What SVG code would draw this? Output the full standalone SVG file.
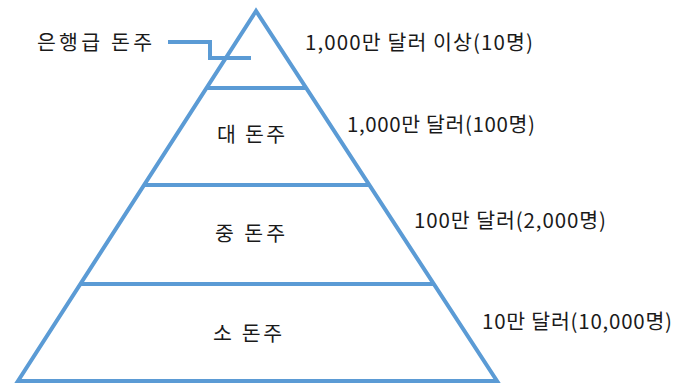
<svg xmlns="http://www.w3.org/2000/svg" width="676" height="383" viewBox="0 0 676 383">
<style>
.ln{stroke:#5B9BD5;stroke-width:4;fill:none;stroke-linejoin:miter}
.t{font-family:"Malgun Gothic","Noto Sans CJK KR","Noto Sans",sans-serif;font-size:20.5px;fill:#1a1a1a}
</style>
<rect width="676" height="383" fill="#ffffff"/>
<g id="pyramid">
<polygon class="ln" points="256,11 18,381 497,381"/>
<line class="ln" x1="206" y1="88" x2="306" y2="88"/>
<line class="ln" x1="144" y1="185" x2="370" y2="185"/>
<line class="ln" x1="80" y1="284" x2="434" y2="284"/>
</g>
<g id="connectors">
<polyline class="ln" points="168,42 210,42 210,58 251,58"/>
</g>
<g id="callout"><text class="t" x="37" y="50" textLength="115" lengthAdjust="spacing">은행급 돈주</text></g>
<g id="tier1-label"><text class="t" x="305" y="50" textLength="228" lengthAdjust="spacing">1,000만 달러 이상(10명)</text></g>
<g id="tier2"><text class="t" x="217" y="142" textLength="68" lengthAdjust="spacing">대 돈주</text></g>
<g id="tier2-label"><text class="t" x="347" y="132" textLength="188" lengthAdjust="spacing">1,000만 달러(100명)</text></g>
<g id="tier3"><text class="t" x="215" y="241" textLength="70" lengthAdjust="spacing">중 돈주</text></g>
<g id="tier3-label"><text class="t" x="414" y="228" textLength="192" lengthAdjust="spacing">100만 달러(2,000명)</text></g>
<g id="tier4"><text class="t" x="213" y="341" textLength="69" lengthAdjust="spacing">소 돈주</text></g>
<g id="tier4-label"><text class="t" x="482" y="329" textLength="190" lengthAdjust="spacing">10만 달러(10,000명)</text></g>
</svg>
